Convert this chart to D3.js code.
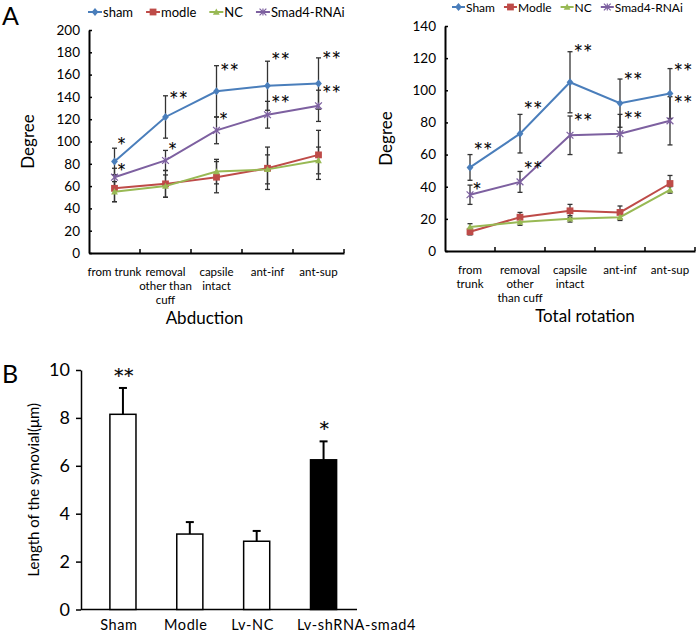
<!DOCTYPE html>
<html><head><meta charset="utf-8">
<script src="https://cdn.jsdelivr.net/npm/d3@7"></script>
<style>body{margin:0;background:#fff} text{font-family:Lato,"Open Sans",sans-serif;fill:#000}</style>
</head><body><svg id="c" width="697" height="634"></svg>
<script>
// ---------- data ----------
const catLabelsAbd = [["from trunk"],["removal","other than","cuff"],["capsile","intact"],["ant-inf"],["ant-sup"]];
const catLabelsRot = [["from","trunk"],["removal","other","than cuff"],["capsile","intact"],["ant-inf"],["ant-sup"]];
const seriesNamesAbd = ["sham","modle","NC","Smad4-RNAi"];
const seriesNamesRot = ["Sham","Modle","NC","Smad4-RNAi"];
const yTicksAbd = [0,20,40,60,80,100,120,140,160,180,200];
const yTicksRot = [0,20,40,60,80,100,120,140];

const abdSham = [82,122,145,150,152];
const abdShamErr = [12,19,23,22,23];
const abdModle = [58,62,68,76,88];
const abdModleErr = [12,12,14,19,22];
const abdNC = [55,60,73,75,83];
const abdNCErr = [9,10,11,13,12];
const abdSmad4 = [68,83,110,124,132];
const abdSmad4Err = [8,9,12,12,14];
const abdShamSig = ["*","**","**","**","**"];
const abdShamSigY = [100,141,166,176,177];
const abdSmad4Sig = ["*","*","*","**","**"];
const abdSmad4SigY = [76,95,122,137,146];

const rotSham = [52,73,105,92,98];
const rotShamErr = [8,12,19,15,15.5];
const rotModle = [12,21,25,24,42];
const rotModleErr = [2,3,4,4,5];
const rotNC = [15,18,20,21,38];
const rotNCErr = [2,2,2,2,2];
const rotSmad4 = [35,43,72,73,81];
const rotSmad4Err = [6,6.5,12,12,15];
const rotShamSig = ["**","**","**","**","**"];
const rotShamSigY = [65,90,126,108,114];
const rotSmad4Sig = ["*","**","**","**","**"];
const rotSmad4SigY = [40,53,83,84,94];

const barCats = ["Sham","Modle","Lv-NC","Lv-shRNA-smad4"];
const barVals = [8.15,3.15,2.85,6.25];
const barErr = [1.1,0.5,0.43,0.77];
const barSig = ["**","","","*"];
const barFill = ["#fff","#fff","#fff","#000"];
const yTicksBar = [0,2,4,6,8,10];

const colors = ["#4A7EBB","#BE4B48","#98B954","#7D60A0"];
const markerTypes = ["diamond","square","triangle","star"];

// ---------- drawing ----------
const svg = d3.select("#c");
const STAR_FONT = "DejaVu Sans";

function marker(g, type, color, x, y){
  const s = 3.4;
  if(type==="diamond"){
    g.append("path").attr("d",`M${x},${y-s-0.6}L${x+s},${y}L${x},${y+s+0.6}L${x-s},${y}Z`).attr("fill",color);
  } else if(type==="square"){
    g.append("rect").attr("x",x-s).attr("y",y-s).attr("width",2*s).attr("height",2*s).attr("fill",color);
  } else if(type==="triangle"){
    g.append("path").attr("d",`M${x},${y-s}L${x+s},${y+s*0.8}L${x-s},${y+s*0.8}Z`).attr("fill",color);
  } else {
    g.append("path").attr("d",`M${x-s},${y-s}L${x+s},${y+s}M${x-s},${y+s}L${x+s},${y-s}M${x},${y-s}L${x},${y+s}`)
      .attr("stroke",color).attr("stroke-width",1.2).attr("fill","none");
  }
}

function sigText(g, x, y, t, size, ls){
  g.append("text").attr("x",x).attr("y",y)
    .attr("text-anchor","middle").style("font-family",STAR_FONT).attr("font-size",size)
    .attr("letter-spacing",ls).attr("stroke","#000").attr("stroke-width",0.15).text(t);
}

function linePanel(opt){
  const g = svg.append("g");
  const x = d3.scaleBand().domain(d3.range(opt.labels.length)).range(opt.xr);
  const y = d3.scaleLinear().domain([0, opt.yTicks[opt.yTicks.length-1]]).range(opt.yr);
  const cx = i => x(i) + x.bandwidth()/2;

  // y axis
  const ya = g.append("g").attr("transform",`translate(${opt.xr[0]},0)`)
    .call(d3.axisLeft(y).tickValues(opt.yTicks).tickSize(-3).tickPadding(9).tickSizeOuter(0));
  ya.select(".domain").attr("stroke","#000").attr("stroke-width",2);
  ya.selectAll(".tick line").attr("stroke","#000").attr("stroke-width",1.5);
  ya.selectAll(".tick text").attr("font-size",13.5).attr("font-family","Lato").attr("fill","#111");

  // x axis
  const xa = g.append("g").attr("transform",`translate(0,${opt.yr[0]})`)
    .call(d3.axisBottom(x).tickValues([]).tickSizeOuter(0));
  xa.select(".domain").attr("stroke","#000").attr("stroke-width",2);
  const bounds = d3.range(1, opt.labels.length+1).map(i => opt.xr[0] + i*x.step());
  g.selectAll(".xt").data(bounds).join("line")
    .attr("x1",d=>d).attr("x2",d=>d).attr("y1",opt.yr[0]).attr("y2",opt.yr[0]-4)
    .attr("stroke","#000").attr("stroke-width",1.5);
  opt.labels.forEach((lines,i)=>{
    const t = g.append("text").attr("text-anchor","middle").attr("font-size",11.5)
      .attr("x",cx(i)).attr("y",opt.yr[0]+23);
    lines.forEach((l,j)=>t.append("tspan").attr("x",cx(i)).attr("dy",j?14:0).text(l));
  });

  // titles
  g.append("text").attr("text-anchor","middle").attr("font-size",17)
    .attr("x",(opt.xr[0]+opt.xr[1])/2+ opt.titleDx).attr("y",opt.yr[0]+71).text(opt.title);
  g.append("text").attr("text-anchor","middle").attr("font-size",17)
    .attr("transform",`translate(${opt.yTitleX},${(opt.yr[0]+opt.yr[1])/2}) rotate(-90)`).text("Degree");

  // error bars
  opt.series.forEach((s,k)=>{
    s.vals.forEach((v,i)=>{
      const e = s.err[i], xx = cx(i);
      g.append("line").attr("x1",xx).attr("x2",xx).attr("y1",y(v-e)).attr("y2",y(v+e))
        .attr("stroke","#333").attr("stroke-width",1.3);
      [v-e,v+e].forEach(w=>g.append("line").attr("x1",xx-2.5).attr("x2",xx+2.5)
        .attr("y1",y(w)).attr("y2",y(w)).attr("stroke","#333").attr("stroke-width",1.3));
    });
  });
  // lines
  const lineGen = d3.line().x((d,i)=>cx(i)).y(d=>y(d));
  opt.series.forEach((s,k)=>{
    g.append("path").attr("d",lineGen(s.vals)).attr("fill","none")
      .attr("stroke",colors[k]).attr("stroke-width",2);
    s.vals.forEach((v,i)=>marker(g, markerTypes[k], colors[k], cx(i), y(v)));
  });
  // significance
  opt.sig.forEach(sg=>{
    sg.txt.forEach((t,i)=>{
      sigText(g, cx(i)+(t.length>1?14:8), y(sg.ys[i])+7, t, 15, 2);
    });
  });

  // legend
  let lx = opt.legendX;
  opt.names.forEach((n,k)=>{
    const ly = opt.legendY;
    g.append("line").attr("x1",lx).attr("x2",lx+opt.legLine).attr("y1",ly).attr("y2",ly)
      .attr("stroke",colors[k]).attr("stroke-width",2);
    marker(g, markerTypes[k], colors[k], lx+opt.legLine/2, ly);
    const t = g.append("text").attr("x",lx+opt.legLine+1).attr("y",ly+4.5).attr("font-size",opt.legFont).text(n);
    lx += opt.legLine + 1 + t.node().getComputedTextLength() + opt.legGap;
  });
}

linePanel({
  labels: catLabelsAbd, names: seriesNamesAbd, yTicks: yTicksAbd,
  xr:[89,344], yr:[253,30], title:"Abduction", titleDx:-12, yTitleX:34,
  legendX:88, legendY:12, legLine:14, legFont:13, legGap:13,
  series:[{vals:abdSham,err:abdShamErr},{vals:abdModle,err:abdModleErr},{vals:abdNC,err:abdNCErr},{vals:abdSmad4,err:abdSmad4Err}],
  sig:[{txt:abdShamSig,ys:abdShamSigY},{txt:abdSmad4Sig,ys:abdSmad4SigY}]
});
linePanel({
  labels: catLabelsRot, names: seriesNamesRot, yTicks: yTicksRot,
  xr:[445,695], yr:[251,26], title:"Total rotation", titleDx:15, yTitleX:392,
  legendX:452, legendY:7, legLine:13, legFont:12, legGap:9,
  series:[{vals:rotSham,err:rotShamErr},{vals:rotModle,err:rotModleErr},{vals:rotNC,err:rotNCErr},{vals:rotSmad4,err:rotSmad4Err}],
  sig:[{txt:rotShamSig,ys:rotShamSigY},{txt:rotSmad4Sig,ys:rotSmad4SigY}]
});

// panel letters
svg.append("text").attr("x",2).attr("y",25).attr("font-size",25).text("A");
svg.append("text").attr("x",2).attr("y",383).attr("font-size",25).text("B");

// ---------- bar panel ----------
(function(){
  const g = svg.append("g");
  const x = d3.scaleBand().domain(barCats).range([89.5,357]).paddingInner(0.61).paddingOuter(0.305);
  const y = d3.scaleLinear().domain([0,10]).range([609.5,370]);
  const ya = g.append("g").attr("transform","translate(81,0)")
    .call(d3.axisLeft(y).tickValues(yTicksBar).tickSize(5).tickPadding(6).tickSizeOuter(0));
  ya.select(".domain").attr("stroke","#000").attr("stroke-width",1.5);
  ya.selectAll(".tick line").attr("stroke","#000").attr("stroke-width",1.5);
  ya.selectAll(".tick text").attr("font-size",18).attr("font-family","Lato");
  g.append("line").attr("x1",81).attr("x2",357).attr("y1",y(0)).attr("y2",y(0))
    .attr("stroke","#000").attr("stroke-width",1.5);

  // error bars (upper only)
  barCats.forEach((c,i)=>{
    const xx = x(c)+x.bandwidth()/2;
    g.append("line").attr("x1",xx).attr("x2",xx).attr("y1",y(barVals[i])).attr("y2",y(barVals[i]+barErr[i]))
      .attr("stroke","#000").attr("stroke-width",2);
    g.append("line").attr("x1",xx-4).attr("x2",xx+4).attr("y1",y(barVals[i]+barErr[i])).attr("y2",y(barVals[i]+barErr[i]))
      .attr("stroke","#000").attr("stroke-width",2);
  });
  g.selectAll(".bar").data(barCats).join("rect")
    .attr("x",d=>x(d)).attr("width",x.bandwidth())
    .attr("y",(d,i)=>y(barVals[i])).attr("height",(d,i)=>y(0)-y(barVals[i]))
    .attr("fill",(d,i)=>barFill[i]).attr("stroke","#000").attr("stroke-width",1.5);
  barCats.forEach((c,i)=>{
    const xx = x(c)+x.bandwidth()/2;
    const last = i === barCats.length-1;
    g.append("text").attr("x",last ? 297 : xx-4).attr("y",630)
      .attr("text-anchor",last ? "start" : "middle").attr("font-size",14.5).attr("letter-spacing",0.6).text(c);
    if(barSig[i]) sigText(g, xx+1, y(barVals[i]+barErr[i]) - 6, barSig[i], 19, 0.5);
  });
  g.append("text").attr("text-anchor","middle").attr("font-size",15)
    .attr("transform",`translate(39,${(y(0)+y(10))/2}) rotate(-90)`).text("Length of the synovial(μm)");
})();
</script></body></html>
